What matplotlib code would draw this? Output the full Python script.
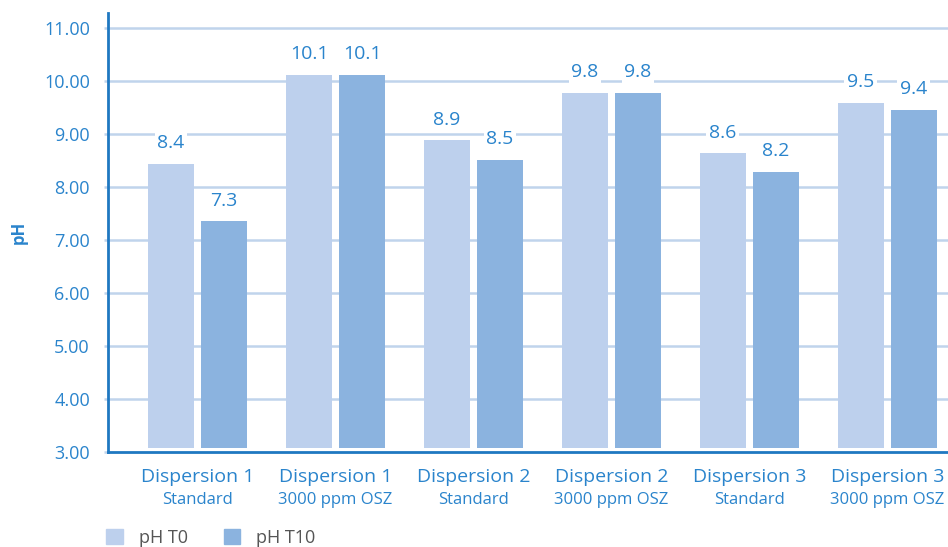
import numpy as np
import matplotlib.pyplot as plt
import matplotlib.transforms as mtransforms
from matplotlib.patches import Patch

# --- Data ---
groups = ["Dispersion 1", "Dispersion 1", "Dispersion 2", "Dispersion 2", "Dispersion 3", "Dispersion 3"]
subtitles = ["Standard", "3000 ppm OSZ", "Standard", "3000 ppm OSZ", "Standard", "3000 ppm OSZ"]
ph_t0 = [8.43, 10.11, 8.88, 9.77, 8.63, 9.58]
ph_t10 = [7.35, 10.11, 8.51, 9.77, 8.28, 9.45]
labels_t0 = ["8.4", "10.1", "8.9", "9.8", "8.6", "9.5"]
labels_t10 = ["7.3", "10.1", "8.5", "9.8", "8.2", "9.4"]
yticks = [3, 4, 5, 6, 7, 8, 9, 10, 11]

# --- Style ---
BLUE = "#2a84cc"
AXIS = "#1f78c1"
GRID = "#c0d4ec"
C_T0 = "#bdd0ed"
C_T10 = "#8bb3df"
BASE = 3.06

plt.rcParams["font.family"] = ["Open Sans", "DejaVu Sans"]

fig = plt.figure(figsize=(9.48, 5.47), dpi=100)
ax = fig.add_axes([0.1139, 0.1745, 0.8861, 0.8015])

x = np.arange(len(groups))
w = 0.333
off = 0.192
t0 = np.array(ph_t0)
t10 = np.array(ph_t10)
ax.bar(x - off, t0 - BASE, w, bottom=BASE, color=C_T0, zorder=3)
ax.bar(x + off, t10 - BASE, w, bottom=BASE, color=C_T10, zorder=3)

for xi, v, s in zip(x - off, t0, labels_t0):
    ax.text(xi, v + 0.22, s, ha="center", va="bottom", color=BLUE, fontsize=14,
            bbox=dict(facecolor="white", edgecolor="none", pad=2), zorder=4)
for xi, v, s in zip(x + off, t10, labels_t10):
    ax.text(xi, v + 0.22, s, ha="center", va="bottom", color=BLUE, fontsize=14,
            bbox=dict(facecolor="white", edgecolor="none", pad=2), zorder=4)

ax.set_xlim(-0.649, 5.44)
ax.set_ylim(3.0, 11.28)

# grid
for y in yticks[1:]:
    ax.axhline(y, color=GRID, lw=1.8, zorder=1)

ax.set_yticks(yticks)
ax.set_yticklabels([f"{v:.2f}" for v in yticks], color=BLUE, fontsize=13)
ax.tick_params(axis="y", length=3, width=1.8, color=GRID, pad=10)
ax.set_xticks(x)
ax.set_xticklabels(groups, color=BLUE, fontsize=14)
ax.tick_params(axis="x", length=0, pad=12)

trans = mtransforms.blended_transform_factory(ax.transData, ax.transAxes)
for xi, s in zip(x, subtitles):
    ax.text(xi, -0.111, s, ha="center", va="center", color=BLUE, fontsize=12, transform=trans)

for side in ["top", "right"]:
    ax.spines[side].set_visible(False)
ax.spines["left"].set_color(AXIS)
ax.spines["left"].set_linewidth(2)
ax.spines["bottom"].set_color(AXIS)
ax.spines["bottom"].set_linewidth(2)

ax.set_ylabel("pH", color=BLUE, fontsize=12, fontweight="bold", labelpad=12)

handles = [Patch(color=C_T0, label="pH T0"), Patch(color=C_T10, label="pH T10")]
fig.legend(handles=handles, loc="lower left", bbox_to_anchor=(0.095, -0.03), ncol=2,
           frameon=False, fontsize=13, labelcolor="#555555", handlelength=0.9,
           handleheight=0.9, columnspacing=2.0, handletextpad=0.9)

fig.savefig("out.png", dpi=100)
